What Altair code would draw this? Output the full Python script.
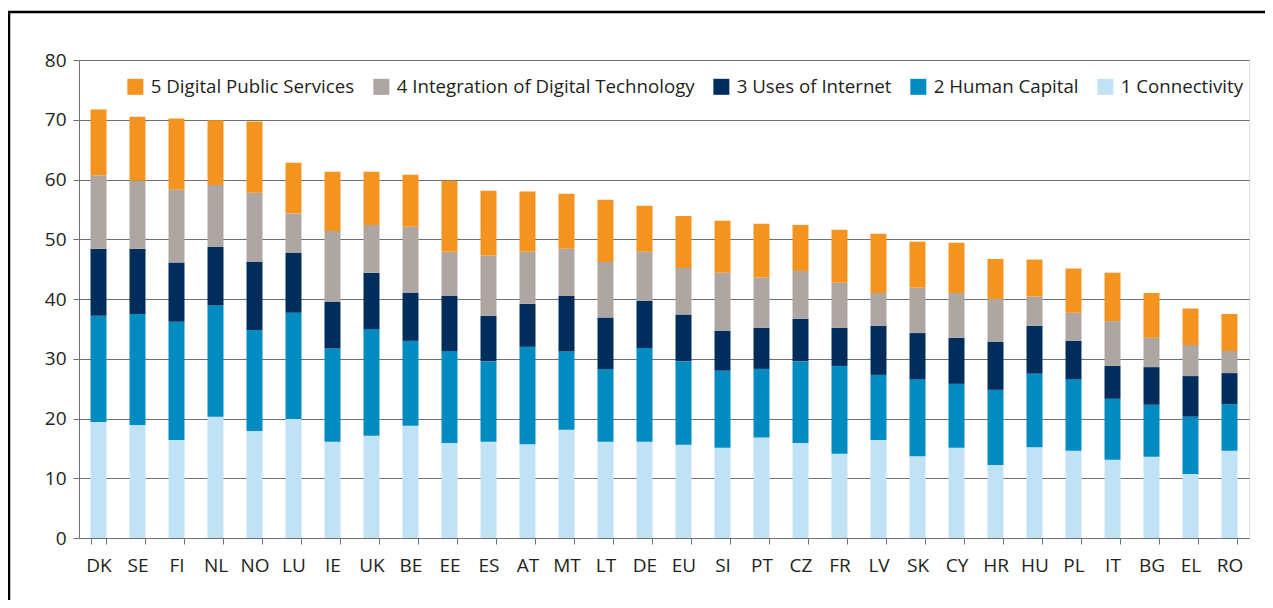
import altair as alt
import pandas as pd

countries = ["DK", "SE", "FI", "NL", "NO", "LU", "IE", "UK", "BE", "EE", "ES", "AT", "MT", "LT", "DE",
             "EU", "SI", "PT", "CZ", "FR", "LV", "SK", "CY", "HR", "HU", "PL", "IT", "BG", "EL", "RO"]

connectivity = [19.4, 18.9, 16.4, 20.3, 17.9, 19.9, 16.1, 17.1, 18.8, 15.9, 16.1, 15.7, 18.1, 16.1, 16.1,
                15.6, 15.1, 16.8, 15.9, 14.1, 16.4, 13.7, 15.1, 12.2, 15.2, 14.6, 13.1, 13.6, 10.7, 14.6]
human_capital = [17.8, 18.6, 19.8, 18.6, 16.9, 17.8, 15.6, 17.9, 14.2, 15.4, 13.5, 16.3, 13.1, 12.2, 15.7,
                 14.0, 12.9, 11.5, 13.7, 14.7, 10.9, 12.9, 10.7, 12.6, 12.3, 12.0, 10.2, 8.7, 9.6, 7.8]
uses_internet = [11.2, 10.9, 9.9, 9.8, 11.4, 10.0, 7.8, 9.4, 8.0, 9.2, 7.6, 7.2, 9.3, 8.6, 7.9,
                 7.8, 6.7, 6.9, 7.1, 6.4, 8.2, 7.7, 7.7, 8.0, 8.0, 6.4, 5.5, 6.3, 6.8, 5.2]
integration = [12.3, 11.4, 12.2, 10.4, 11.6, 6.6, 11.9, 8.0, 11.1, 7.4, 10.1, 8.7, 7.9, 9.3, 8.2,
               7.8, 9.7, 8.4, 8.0, 7.5, 5.5, 7.6, 7.5, 7.2, 4.9, 4.7, 7.5, 4.9, 5.2, 3.7]
public_services = [11.0, 10.7, 11.9, 10.8, 11.9, 8.5, 9.9, 8.9, 8.7, 11.9, 10.8, 10.1, 9.2, 10.4, 7.7,
                   8.7, 8.7, 9.0, 7.7, 8.9, 9.9, 7.7, 8.4, 6.7, 6.2, 7.4, 8.1, 7.5, 6.1, 6.2]

dimension_names = ["1 Connectivity", "2 Human Capital", "3 Uses of Internet",
                   "4 Integration of Digital Technology", "5 Digital Public Services"]
dimension_colors = ["#c1e1f4", "#008bc1", "#002d5c", "#ada6a2", "#f5931f"]
series = [connectivity, human_capital, uses_internet, integration, public_services]

rows = []
for k, (name, vals) in enumerate(zip(dimension_names, series)):
    for c, v in zip(countries, vals):
        rows.append({"country": c, "dimension": name, "value": v, "idx": k + 1})
df = pd.DataFrame(rows)

legend_order = dimension_names[::-1]
color_order = dimension_colors[::-1]

FONT = "Open Sans"
TEXT = "#231f20"
GRID = "#707070"
FS = 19

bars = alt.Chart(df).mark_bar().encode(
    x=alt.X("country:N", sort=countries,
            scale=alt.Scale(paddingInner=0.59, paddingOuter=0.295),
            axis=alt.Axis(title=None, labelAngle=0, tickBand="extent", tickSize=6,
                          labelPadding=12, labelFontSize=FS, labelColor=TEXT, labelFont=FONT,
                          domainColor=GRID, tickColor=GRID, grid=False)),
    y=alt.Y("value:Q", stack="zero",
            scale=alt.Scale(domain=[0, 80], nice=False),
            axis=alt.Axis(title=None, values=[0, 10, 20, 30, 40, 50, 60, 70, 80], tickSize=6,
                          labelPadding=7, labelFontSize=FS, labelColor=TEXT, labelFont=FONT,
                          domainColor=GRID, tickColor=GRID, grid=True, gridColor=GRID,
                          gridWidth=1.2)),
    color=alt.Color("dimension:N",
                    scale=alt.Scale(domain=legend_order, range=color_order),
                    legend=alt.Legend(title=None, orient="none", legendX=47, legendY=17,
                                      direction="horizontal", symbolType="square",
                                      symbolSize=256, symbolStrokeWidth=0, labelFontSize=18.7,
                                      labelFont=FONT, labelColor=TEXT, labelOffset=6,
                                      columnPadding=17, labelLimit=500)),
    order=alt.Order("idx:Q", sort="ascending"),
)

frame = alt.Chart(alt.Data(values=[{"f": 1}])).mark_rect(
    filled=False, stroke="#000000", strokeWidth=2.5, clip=False
).encode(
    x=alt.value(-70), x2=alt.value(1240), y=alt.value(-48), y2=alt.value(620)
)

chart = alt.layer(frame, bars).properties(
    width=1170, height=478,
    autosize=alt.AutoSizeParams(type="none"),
    padding={"left": 71, "top": 52, "right": 16, "bottom": 62},
).configure_view(stroke=None).configure(font=FONT)

chart.save("out.html", embed_options={"renderer": "svg", "actions": False})
